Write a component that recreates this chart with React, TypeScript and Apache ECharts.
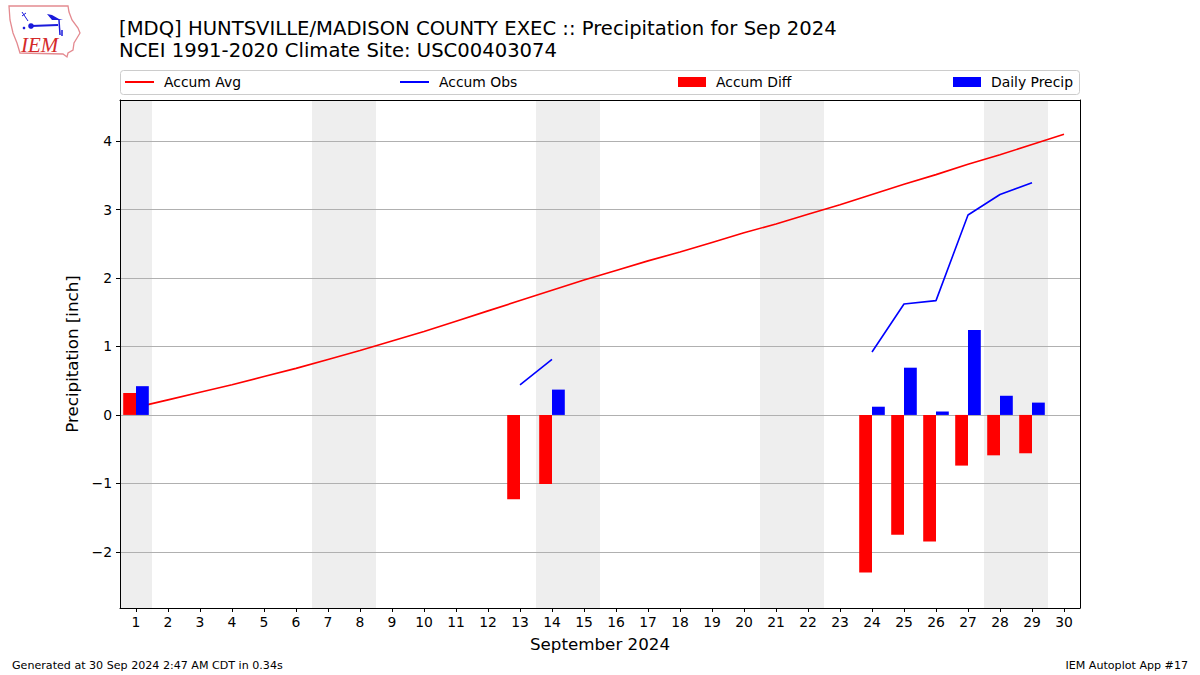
import React, { useEffect, useRef } from "react";
import * as echarts from "echarts";

const days: string[] = Array.from({ length: 30 }, (_, i) => String(i + 1));
const accumAvg: number[] = [
  0.11, 0.22, 0.33, 0.44, 0.56, 0.68, 0.81, 0.94, 1.08, 1.22,
  1.37, 1.52, 1.67, 1.82, 1.97, 2.11, 2.25, 2.38, 2.52, 2.66,
  2.79, 2.93, 3.07, 3.22, 3.37, 3.51, 3.66, 3.80, 3.95, 4.10,
];
const accumObs: (number | null)[] = [
  0.43, null, null, null, null, null, null, null, null, null,
  null, null, 0.44, 0.81, null, null, null, null, null, null,
  null, null, null, 0.92, 1.62, 1.67, 2.92, 3.22, 3.39, null,
];
const accumDiff: (number | null)[] = [
  0.32, null, null, null, null, null, null, null, null, null,
  null, null, -1.23, -1.01, null, null, null, null, null, null,
  null, null, null, -2.30, -1.75, -1.85, -0.74, -0.59, -0.56, null,
];
const dailyPrecip: (number | null)[] = [
  0.42, null, null, null, null, null, null, null, null, null,
  null, null, null, 0.37, null, null, null, null, null, null,
  null, null, null, 0.12, 0.69, 0.05, 1.24, 0.28, 0.18, null,
];
const weekendDays: number[] = [1, 7, 8, 14, 15, 21, 22, 28, 29];

const FONT = "DejaVu Sans";

export default function App() {
  const ref = useRef<HTMLDivElement>(null);
  useEffect(() => {
    if (!ref.current) return;
    const chart = echarts.init(ref.current, undefined, { renderer: "svg" });
    const fmtMinus = (v: number) => String(v).replace("-", "\u2212");
    const legendText = { fontFamily: FONT, fontSize: 13.9, color: "#000", padding: [0, 0, 0, 5] };
    const blue = "#1a1adb";
    const option: any = {
      animation: false,
      backgroundColor: "#ffffff",
      title: {
        text: "[MDQ] HUNTSVILLE/MADISON COUNTY EXEC :: Precipitation for Sep 2024\nNCEI 1991-2020 Climate Site: USC00403074",
        left: 119,
        top: 17,
        padding: 0,
        textStyle: { fontFamily: FONT, fontSize: 19.6, fontWeight: "normal", color: "#000", lineHeight: 22 },
      },
      legend: [
        { data: ["Accum Avg"], left: 125, top: 75, padding: 0, itemWidth: 29, itemHeight: 2, icon: "rect", textStyle: legendText, selectedMode: false },
        { data: ["Accum Obs"], left: 400, top: 75, padding: 0, itemWidth: 29, itemHeight: 2, icon: "rect", textStyle: legendText, selectedMode: false },
        { data: ["Accum Diff"], left: 678, top: 75, padding: 0, itemWidth: 28, itemHeight: 10, icon: "rect", textStyle: legendText, selectedMode: false },
        { data: ["Daily Precip"], left: 953, top: 75, padding: 0, itemWidth: 28, itemHeight: 10, icon: "rect", textStyle: legendText, selectedMode: false },
      ],
      grid: { left: 120, right: 120, top: 100, bottom: 67, containLabel: false },
      xAxis: [
        {
          type: "category",
          data: days,
          position: "bottom",
          z: 3,
          boundaryGap: true,
          name: "September 2024",
          nameLocation: "middle",
          nameGap: 27,
          nameTextStyle: { fontFamily: FONT, fontSize: 16.7, color: "#000" },
          axisLine: { show: true, onZero: false, lineStyle: { color: "#000", width: 1 } },
          axisTick: { show: true, alignWithLabel: true, length: 4, lineStyle: { color: "#000" } },
          axisLabel: { fontFamily: FONT, fontSize: 13.9, color: "#000", margin: 7, interval: 0 },
          splitLine: { show: false },
        },
        {
          type: "category",
          data: days,
          position: "top",
          z: 3,
          axisLine: { show: true, onZero: false, lineStyle: { color: "#000", width: 1 } },
          axisTick: { show: false },
          axisLabel: { show: false },
          splitLine: { show: false },
        },
      ],
      yAxis: [
        {
          type: "value",
          min: -2.82,
          max: 4.6,
          splitNumber: 7,
          z: 1,
          name: "Precipitation [inch]",
          nameLocation: "middle",
          nameGap: 35,
          nameTextStyle: { fontFamily: FONT, fontSize: 16.7, color: "#000" },
          axisLine: { show: true, onZero: false, lineStyle: { color: "#000", width: 1 } },
          axisTick: { show: true, length: 4, lineStyle: { color: "#000" } },
          axisLabel: {
            fontFamily: FONT,
            fontSize: 13.9,
            color: "#000",
            margin: 8,
            showMinLabel: false,
            showMaxLabel: false,
            formatter: fmtMinus,
          },
          splitLine: { show: true, lineStyle: { color: "#b0b0b0", width: 1 } },
        },
        {
          type: "value",
          min: -2.82,
          max: 4.6,
          position: "right",
          z: 3,
          axisLine: { show: true, onZero: false, lineStyle: { color: "#000", width: 1 } },
          axisTick: { show: false },
          axisLabel: { show: false },
          splitLine: { show: false },
        },
      ],
      graphic: [
        {
          type: "rect",
          z: 0,
          shape: { x: 120.5, y: 70.5, width: 959, height: 24, r: 3 },
          style: { fill: "#ffffff", stroke: "#cccccc", lineWidth: 1 },
          silent: true,
        },
        {
          type: "group",
          x: 0,
          y: 0,
          silent: true,
          children: [
            {
              type: "polygon",
              shape: {
                points: [
                  [9, 6], [68, 6], [69, 12], [72, 20], [78, 28], [80, 33], [77, 38], [74, 43],
                  [73, 50], [68, 53], [67, 57], [63, 54], [20, 53], [17, 43], [13, 33], [10, 20],
                ],
              },
              style: { fill: "#ffffff", stroke: "#e48a90", lineWidth: 1.3 },
            },
            { type: "line", shape: { x1: 31, y1: 26, x2: 58, y2: 25 }, style: { stroke: blue, lineWidth: 2 } },
            { type: "circle", shape: { cx: 31, cy: 26, r: 2.8 }, style: { fill: blue } },
            { type: "polygon", shape: { points: [[47, 14], [52, 15], [59, 19], [63, 20], [52, 20]] }, style: { fill: blue } },
            { type: "line", shape: { x1: 59, y1: 20, x2: 60, y2: 35 }, style: { stroke: blue, lineWidth: 1.5 } },
            { type: "line", shape: { x1: 62, y1: 30, x2: 62, y2: 36 }, style: { stroke: blue, lineWidth: 1.5 } },
            { type: "line", shape: { x1: 22, y1: 12, x2: 28, y2: 21 }, style: { stroke: blue, lineWidth: 1 } },
            { type: "line", shape: { x1: 22, y1: 16, x2: 26, y2: 13 }, style: { stroke: blue, lineWidth: 1 } },
            { type: "circle", shape: { cx: 24, cy: 28, r: 1.3 }, style: { fill: blue } },
            {
              type: "text",
              x: 21,
              y: 34,
              style: { text: "IEM", fontFamily: "Liberation Serif", fontStyle: "italic", fontSize: 21, fill: "#d42a2a" },
            },
          ],
        },
        {
          type: "text",
          left: 12,
          top: 660,
          style: { text: "Generated at 30 Sep 2024 2:47 AM CDT in 0.34s", fontFamily: FONT, fontSize: 11.1, fill: "#000" },
        },
        {
          type: "text",
          right: 12,
          top: 660,
          style: { text: "IEM Autoplot App #17", fontFamily: FONT, fontSize: 11.1, fill: "#000" },
        },
      ],
      series: [
        {
          type: "custom",
          name: "weekend",
          xAxisIndex: 0,
          yAxisIndex: 0,
          z: 0,
          silent: true,
          data: weekendDays.map((d) => [d - 1, 0]),
          renderItem: (params: any, api: any) => {
            const c = api.coord([api.value(0), 0]);
            const w = api.size([1, 0])[0];
            const cs = params.coordSys;
            return {
              type: "rect",
              shape: { x: c[0] - w / 2, y: cs.y, width: w, height: cs.height },
              style: { fill: "#eeeeee" },
            };
          },
        },
        {
          type: "line",
          name: "Accum Avg",
          data: accumAvg,
          z: 2,
          symbol: "none",
          showSymbol: false,
          lineStyle: { color: "#ff0000", width: 1.6 },
          itemStyle: { color: "#ff0000" },
        },
        {
          type: "line",
          name: "Accum Obs",
          data: accumObs,
          z: 2,
          symbol: "none",
          showSymbol: false,
          connectNulls: false,
          lineStyle: { color: "#0000ff", width: 1.6 },
          itemStyle: { color: "#0000ff" },
        },
        {
          type: "bar",
          name: "Accum Diff",
          data: accumDiff,
          z: 3,
          barWidth: "40%",
          barGap: "0%",
          itemStyle: { color: "#ff0000" },
        },
        {
          type: "bar",
          name: "Daily Precip",
          data: dailyPrecip,
          z: 3,
          barWidth: "40%",
          barGap: "0%",
          itemStyle: { color: "#0000ff" },
        },
      ],
    };
    chart.setOption(option);
    return () => chart.dispose();
  }, []);
  return (
    <div
      ref={ref}
      style={{ position: "fixed", left: 0, top: 0, width: 1200, height: 675, background: "#fff" }}
    />
  );
}
